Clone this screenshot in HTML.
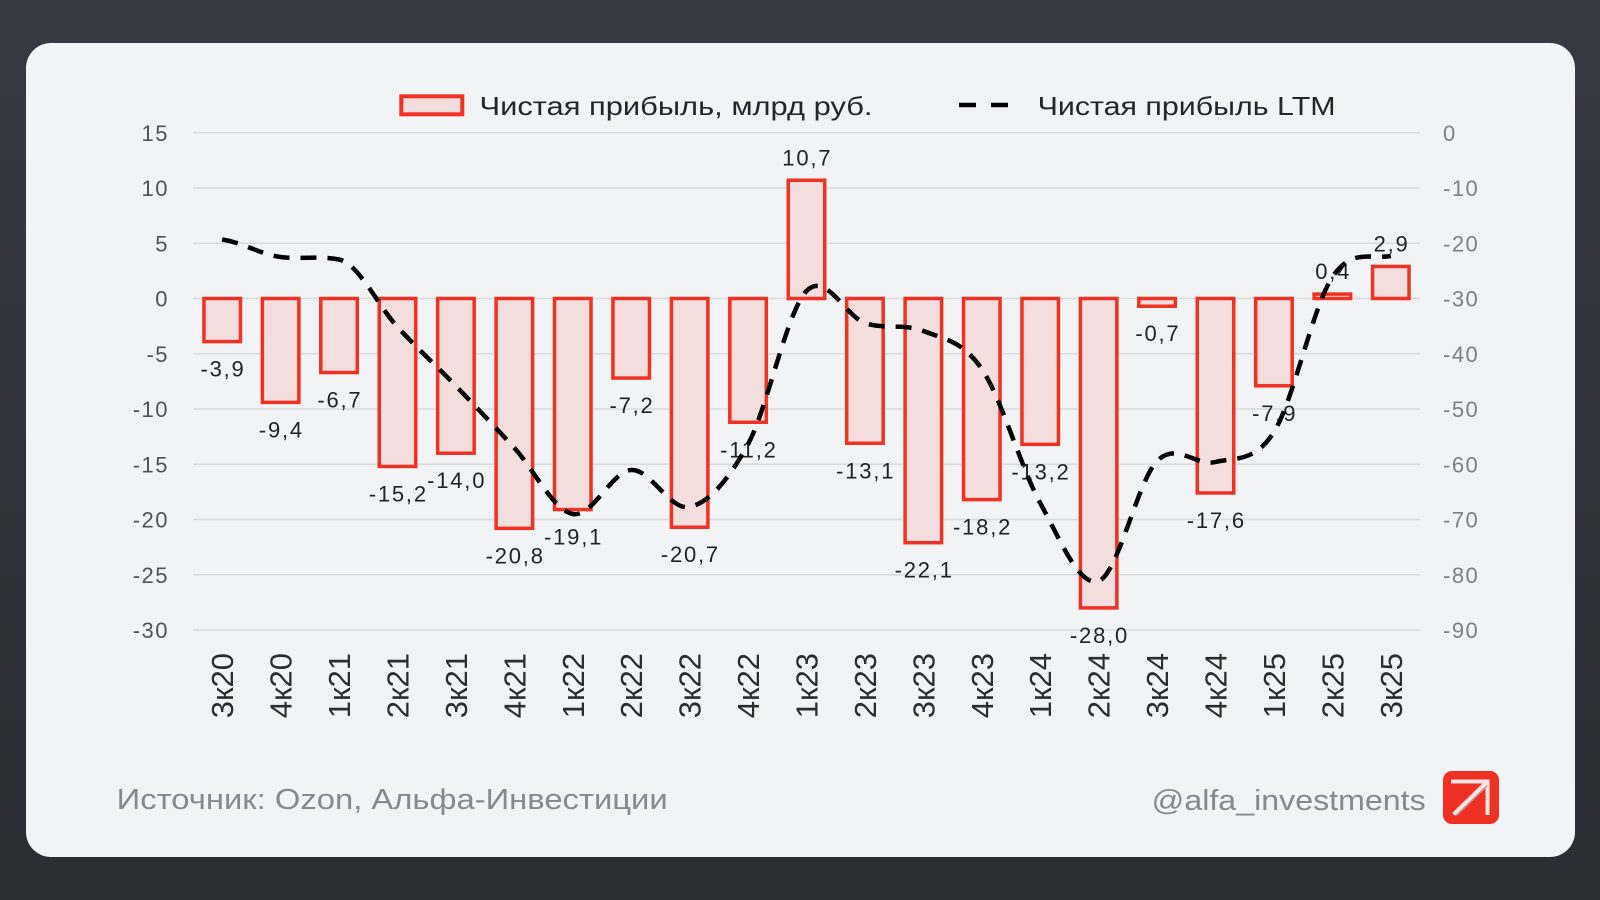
<!DOCTYPE html>
<html>
<head>
<meta charset="utf-8">
<style>
  html,body{margin:0;padding:0;width:1600px;height:900px;overflow:hidden;background:#30313a;}
  svg{display:block;}
  text{font-family:"Liberation Sans","DejaVu Sans",sans-serif;}
  .tl{font-size:22px;fill:#505358;letter-spacing:1.5px;}
  .tr{font-size:22px;fill:#7c7f84;letter-spacing:1.5px;}
  .dl{font-size:22px;fill:#1f2226;letter-spacing:1.8px;}
  .xl{font-size:31px;fill:#2a2d31;}
  .lg{font-size:26px;fill:#23272b;}
  .ft{font-size:28.5px;fill:#86898f;}
  .bar{fill:#f3dddd;stroke:#ef3126;stroke-width:3.5;}
  .grid{stroke:#d9dadc;stroke-width:1.6;}
</style>
</head>
<body>
<svg width="1600" height="900" viewBox="0 0 1600 900" xmlns="http://www.w3.org/2000/svg">
  <defs>
    <linearGradient id="bg" x1="0" y1="0" x2="0" y2="1">
      <stop offset="0" stop-color="#383943"/>
      <stop offset="1" stop-color="#2b2c34"/>
    </linearGradient>
  </defs>
  <rect x="0" y="0" width="1600" height="900" fill="url(#bg)"/>
  <rect x="26" y="43" width="1549" height="814" rx="25" ry="25" fill="#f2f3f5"/>

  <!-- Legend -->
  <rect x="401.3" y="96.3" width="61" height="18" fill="#f3dddd" stroke="#ef3126" stroke-width="4"/>
  <text class="lg" x="479.5" y="115" textLength="393" lengthAdjust="spacingAndGlyphs">Чистая прибыль, млрд руб.</text>
  <line x1="959" y1="105" x2="1009" y2="105" stroke="#000" stroke-width="4.5" stroke-dasharray="17 15"/>
  <text class="lg" x="1037.6" y="115" textLength="298" lengthAdjust="spacingAndGlyphs">Чистая прибыль LTM</text>

  <!-- Gridlines -->
  <g class="grid">
    <line x1="193" y1="132.75" x2="1420" y2="132.75"/>
    <line x1="193" y1="188" x2="1420" y2="188"/>
    <line x1="193" y1="243.25" x2="1420" y2="243.25"/>
    <line x1="193" y1="298.5" x2="1420" y2="298.5"/>
    <line x1="193" y1="353.75" x2="1420" y2="353.75"/>
    <line x1="193" y1="409" x2="1420" y2="409"/>
    <line x1="193" y1="464.25" x2="1420" y2="464.25"/>
    <line x1="193" y1="519.5" x2="1420" y2="519.5"/>
    <line x1="193" y1="574.75" x2="1420" y2="574.75"/>
    <line x1="193" y1="630" x2="1420" y2="630"/>
  </g>

  <!-- Left axis ticks -->
  <g class="tl" text-anchor="end">
    <text x="169" y="140.75">15</text>
    <text x="169" y="196">10</text>
    <text x="169" y="251.25">5</text>
    <text x="169" y="306.5">0</text>
    <text x="169" y="361.75">-5</text>
    <text x="169" y="417">-10</text>
    <text x="169" y="472.25">-15</text>
    <text x="169" y="527.5">-20</text>
    <text x="169" y="582.75">-25</text>
    <text x="169" y="638">-30</text>
  </g>
  <!-- Right axis ticks -->
  <g class="tr" text-anchor="start">
    <text x="1443" y="140.75">0</text>
    <text x="1443" y="196">-10</text>
    <text x="1443" y="251.25">-20</text>
    <text x="1443" y="306.5">-30</text>
    <text x="1443" y="361.75">-40</text>
    <text x="1443" y="417">-50</text>
    <text x="1443" y="472.25">-60</text>
    <text x="1443" y="527.5">-70</text>
    <text x="1443" y="582.75">-80</text>
    <text x="1443" y="638">-90</text>
  </g>

  <!-- Bars -->
  <g class="bar">
    <rect x="203.95" y="298.5" width="36.5" height="43.1"/>
    <rect x="262.38" y="298.5" width="36.5" height="103.87"/>
    <rect x="320.81" y="298.5" width="36.5" height="74.04"/>
    <rect x="379.24" y="298.5" width="36.5" height="167.96"/>
    <rect x="437.67" y="298.5" width="36.5" height="154.7"/>
    <rect x="496.1" y="298.5" width="36.5" height="229.84"/>
    <rect x="554.53" y="298.5" width="36.5" height="211.06"/>
    <rect x="612.96" y="298.5" width="36.5" height="79.56"/>
    <rect x="671.39" y="298.5" width="36.5" height="228.74"/>
    <rect x="729.82" y="298.5" width="36.5" height="123.76"/>
    <rect x="788.25" y="180.26" width="36.5" height="118.24"/>
    <rect x="846.68" y="298.5" width="36.5" height="144.76"/>
    <rect x="905.11" y="298.5" width="36.5" height="244.2"/>
    <rect x="963.54" y="298.5" width="36.5" height="201.11"/>
    <rect x="1021.97" y="298.5" width="36.5" height="145.86"/>
    <rect x="1080.4" y="298.5" width="36.5" height="309.4"/>
    <rect x="1138.83" y="298.5" width="36.5" height="7.74"/>
    <rect x="1197.26" y="298.5" width="36.5" height="194.48"/>
    <rect x="1255.69" y="298.5" width="36.5" height="87.3"/>
    <rect x="1314.12" y="294.08" width="36.5" height="4.42"/>
    <rect x="1372.55" y="266.45" width="36.5" height="32.05"/>
  </g>

  <!-- Data labels -->
  <g class="dl" text-anchor="middle">
    <text x="223" y="376.6">-3,9</text>
    <text x="281.4" y="437.4">-9,4</text>
    <text x="339.9" y="407.5">-6,7</text>
    <text x="398.3" y="501.5">-15,2</text>
    <text x="456.7" y="488.2">-14,0</text>
    <text x="515.2" y="563.3">-20,8</text>
    <text x="573.6" y="544.6">-19,1</text>
    <text x="632" y="413.1">-7,2</text>
    <text x="690.4" y="562.2">-20,7</text>
    <text x="748.9" y="457.3">-11,2</text>
    <text x="807.3" y="165.3">10,7</text>
    <text x="865.7" y="478.3">-13,1</text>
    <text x="924.2" y="577.7">-22,1</text>
    <text x="982.6" y="534.6">-18,2</text>
    <text x="1041" y="479.4">-13,2</text>
    <text x="1099.5" y="642.9">-28,0</text>
    <text x="1157.9" y="341.2">-0,7</text>
    <text x="1216.3" y="528">-17,6</text>
    <text x="1274.7" y="420.8">-7,9</text>
    <text x="1333.2" y="279.1">0,4</text>
    <text x="1391.6" y="251.5">2,9</text>
  </g>

  <!-- LTM line -->
  <path fill="none" stroke="#000" stroke-width="4.5" stroke-dasharray="16 11"
    d="M222.2 239.5
       C241.7 242.4 261.1 254.5 280.6 257
       C300.1 259.5 319.6 255.5 339.1 259.5
       C358.6 263.5 378.0 305.8 397.5 327
       C417.0 348.2 436.4 365.8 455.9 386
       C475.4 406.2 494.9 426.7 514.4 448
       C533.8 469.3 553.3 510.3 572.8 514
       C592.3 517.7 611.7 471.2 631.2 470
       C650.7 468.8 670.2 511.3 689.6 507
       C709.1 502.7 728.6 480 748.1 444
       C767.5 408 787.0 311.2 806.5 291
       C826.0 270.8 845.4 316.3 864.9 323
       C884.4 329.7 903.9 323.3 923.4 331
       C942.8 338.7 962.3 340.3 981.8 369
       C1001.3 397.7 1020.7 467.3 1040.2 503
       C1059.7 538.3 1079.2 588 1098.7 581
       C1118.2 574 1137.6 480.8 1157.1 461
       C1176.6 441.2 1196.0 466.8 1215.5 462
       C1235.0 457.2 1254.4 462.8 1273.9 432
       C1293.4 401.2 1312.9 306.3 1332.4 277
       C1351.9 247.7 1371.3 259.5 1390.8 256"/>

  <!-- X-axis labels -->
  <g class="xl" text-anchor="end">
    <text transform="translate(233.2,653) rotate(-90)">3к20</text>
    <text transform="translate(291.6,653) rotate(-90)">4к20</text>
    <text transform="translate(350.1,653) rotate(-90)">1к21</text>
    <text transform="translate(408.5,653) rotate(-90)">2к21</text>
    <text transform="translate(466.9,653) rotate(-90)">3к21</text>
    <text transform="translate(525.4,653) rotate(-90)">4к21</text>
    <text transform="translate(583.8,653) rotate(-90)">1к22</text>
    <text transform="translate(642.2,653) rotate(-90)">2к22</text>
    <text transform="translate(700.6,653) rotate(-90)">3к22</text>
    <text transform="translate(759.1,653) rotate(-90)">4к22</text>
    <text transform="translate(817.5,653) rotate(-90)">1к23</text>
    <text transform="translate(875.9,653) rotate(-90)">2к23</text>
    <text transform="translate(934.4,653) rotate(-90)">3к23</text>
    <text transform="translate(992.8,653) rotate(-90)">4к23</text>
    <text transform="translate(1051.2,653) rotate(-90)">1к24</text>
    <text transform="translate(1109.7,653) rotate(-90)">2к24</text>
    <text transform="translate(1168.1,653) rotate(-90)">3к24</text>
    <text transform="translate(1226.5,653) rotate(-90)">4к24</text>
    <text transform="translate(1284.9,653) rotate(-90)">1к25</text>
    <text transform="translate(1343.4,653) rotate(-90)">2к25</text>
    <text transform="translate(1401.8,653) rotate(-90)">3к25</text>
  </g>

  <!-- Footer -->
  <text class="ft" x="116.7" y="809" textLength="551" lengthAdjust="spacingAndGlyphs">Источник: Ozon, Альфа-Инвестиции</text>
  <text class="ft" x="1151.7" y="810" textLength="274" lengthAdjust="spacingAndGlyphs">@alfa_investments</text>

  <!-- Logo -->
  <rect x="1443" y="771" width="56" height="53" rx="9" ry="9" fill="#ee3124"/>
  <g fill="none" stroke-linecap="square">
    <polyline points="1453,781.5 1487.5,781.5 1487.5,813" stroke="#f6e4e4" stroke-width="4"/>
    <line x1="1455" y1="813" x2="1485.5" y2="783.5" stroke="#f6e4e4" stroke-width="4"/>
    <line x1="1457" y1="815" x2="1487" y2="786" stroke="#b9a3a3" stroke-width="1.2"/>
  </g>
</svg>
</body>
</html>
